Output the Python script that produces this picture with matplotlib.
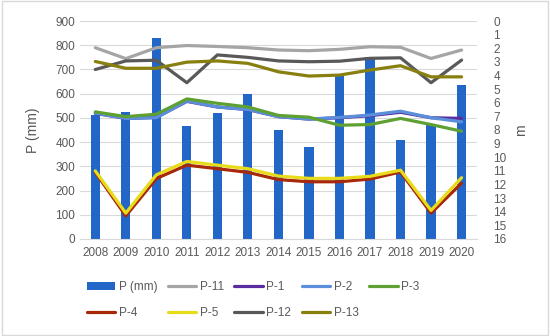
import matplotlib

matplotlib.use("Agg")
import matplotlib.pyplot as plt
import numpy as np
from matplotlib.patches import Rectangle

plt.rcParams["font.family"] = ["Liberation Sans", "DejaVu Sans"]

YEARS = [str(y) for y in range(2008, 2021)]
PRECIP = [510, 525, 830, 465, 520, 600, 450, 380, 675, 750, 410, 470, 635]

# water table depth (m below surface), right axis
DEPTH = {
    "P-11": [1.96, 2.76, 1.96, 1.80, 1.87, 1.96, 2.13, 2.18, 2.08, 1.89, 1.93, 2.75, 2.13],
    "P-1": [6.78, 7.15, 7.08, 5.90, 6.31, 6.50, 7.02, 7.20, 7.10, 6.95, 6.70, 7.10, 7.15],
    "P-2": [6.76, 7.15, 7.10, 5.87, 6.31, 6.49, 7.02, 7.20, 7.08, 6.90, 6.62, 7.10, 7.40],
    "P-3": [6.67, 7.02, 6.84, 5.72, 6.04, 6.31, 6.93, 7.06, 7.65, 7.60, 7.15, 7.60, 8.09],
    "P-4": [11.10, 14.30, 11.56, 10.58, 10.84, 11.11, 11.64, 11.80, 11.80, 11.60, 11.08, 14.10, 11.90],
    "P-5": [11.00, 14.10, 11.29, 10.31, 10.58, 10.84, 11.38, 11.55, 11.55, 11.40, 10.95, 13.90, 11.50],
    "P-12": [3.56, 2.93, 2.88, 4.53, 2.49, 2.67, 2.93, 2.99, 2.95, 2.74, 2.70, 4.53, 2.87],
    "P-13": [2.97, 3.47, 3.47, 3.02, 2.93, 3.11, 3.73, 4.04, 3.97, 3.60, 3.28, 4.10, 4.10],
}
COLORS = {
    "P-11": "#A5A5A5",
    "P-1": "#5B2C9F",
    "P-2": "#5B8FDB",
    "P-3": "#5EA032",
    "P-4": "#A8280A",
    "P-5": "#E8DC1A",
    "P-12": "#595959",
    "P-13": "#877F0E",
}
BAR_COLOR = "#2266C8"
TXT = "#595959"

fig = plt.figure(figsize=(5.5, 3.36), dpi=100)
fig.patches.append(Rectangle((0.003, 0.004), 0.994, 0.992, transform=fig.transFigure,
                             fill=False, edgecolor="#D9D9D9", lw=1))
ax1 = fig.add_axes([0.1455, 0.2887, 0.7215, 0.6488])
ax2 = ax1.twinx()

x = np.arange(len(YEARS))
bars = ax1.bar(x, PRECIP, width=0.3, color=BAR_COLOR, zorder=2, label="P (mm)")
ax1.set_xlim(-0.5, len(YEARS) - 0.5)
ax1.set_ylim(0, 900)
ax1.set_yticks(range(0, 901, 100))
ax1.set_xticks(x, YEARS)
ax1.grid(axis="y", color="#D9D9D9", lw=0.8, zorder=0)
ax1.set_axisbelow(True)
ax1.set_ylabel("P (mm)", color=TXT, fontsize=10, labelpad=11)

lines = {}
for name, vals in DEPTH.items():
    (ln,) = ax2.plot(x, vals, color=COLORS[name], lw=2.3, label=name, solid_capstyle="round")
    lines[name] = ln
ax2.set_ylim(16, 0)
ax2.set_yticks(range(0, 17))
ax2.set_ylabel("m", color=TXT, fontsize=10, labelpad=5)

for ax in (ax1, ax2):
    for s in ax.spines.values():
        s.set_visible(False)
    ax.tick_params(length=0, colors=TXT, labelsize=8.5)
ax1.spines["bottom"].set_visible(True)
ax1.spines["bottom"].set_color("#D9D9D9")
ax1.tick_params(axis="x", pad=6)
ax2.tick_params(axis="y", pad=12)

# column-major order so the rows read like the original legend
order = ["P-4", "P-11", "P-5", "P-1", "P-12", "P-2", "P-13", "P-3"]
handles = [bars] + [lines[n] for n in order]
labels = ["P (mm)"] + order
leg = fig.legend(handles, labels, loc="lower center", bbox_to_anchor=(0.46, 0.018), ncol=5,
                 frameon=False, fontsize=8.5, handlelength=2.4, columnspacing=0.9,
                 handletextpad=0.3, labelspacing=1.2)
for t in leg.get_texts():
    t.set_color(TXT)

fig.savefig("out.png", dpi=100)
